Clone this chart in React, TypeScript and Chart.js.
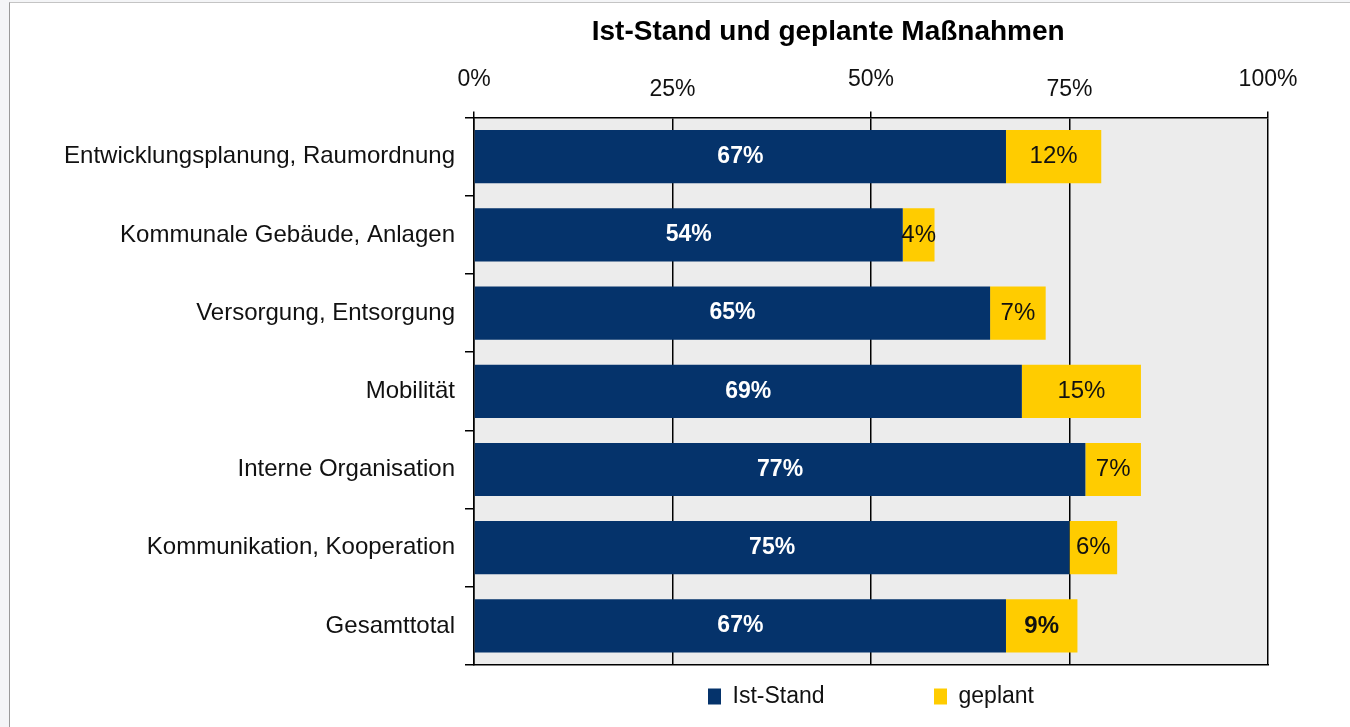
import React, { useEffect, useRef } from 'react';
import { Chart, registerables } from 'chart.js';

Chart.register(...registerables);

const categories = [
  'Entwicklungsplanung, Raumordnung',
  'Kommunale Gebäude, Anlagen',
  'Versorgung, Entsorgung',
  'Mobilität',
  'Interne Organisation',
  'Kommunikation, Kooperation',
  'Gesamttotal',
];
const istStand = [67, 54, 65, 69, 77, 75, 67];
const geplant = [12, 4, 7, 15, 7, 6, 9];
const xTickLabels = ['0%', '25%', '50%', '75%', '100%'];
const seriesNames = ['Ist-Stand', 'geplant'];
const titleText = 'Ist-Stand und geplante Maßnahmen';

const NAVY = '#05336b';
const YELLOW = '#ffcc00';
const PLOT_BG = '#ececec';
const TEXT = '#111111';
const FONT = "'Liberation Sans', Arial, Helvetica, sans-serif";

const plotBackground = {
  id: 'plotBackground',
  beforeDraw(chart: any) {
    const { ctx, chartArea } = chart;
    if (!chartArea) return;
    ctx.save();
    ctx.fillStyle = PLOT_BG;
    ctx.fillRect(chartArea.left, chartArea.top, chartArea.right - chartArea.left, chartArea.bottom - chartArea.top);
    ctx.restore();
  },
};

const barValueLabels = {
  id: 'barValueLabels',
  afterDatasetsDraw(chart: any) {
    const { ctx } = chart;
    ctx.save();
    ctx.textAlign = 'center';
    ctx.textBaseline = 'middle';
    chart.data.datasets.forEach((ds: any, di: number) => {
      const meta = chart.getDatasetMeta(di);
      meta.data.forEach((bar: any, i: number) => {
        const p = bar.getProps(['x', 'y', 'base'], true);
        const cx = (p.x + p.base) / 2;
        const v = ds.data[i];
        if (di === 0) {
          ctx.font = `bold 23px ${FONT}`;
          ctx.fillStyle = '#ffffff';
        } else {
          const bold = i === categories.length - 1;
          ctx.font = `${bold ? 'bold ' : ''}24px ${FONT}`;
          ctx.fillStyle = '#111111';
        }
        ctx.fillText(`${v}%`, cx, p.y);
      });
    });
    ctx.restore();
  },
};

export default function App() {
  const ref = useRef<HTMLCanvasElement>(null);

  useEffect(() => {
    document.body.style.background = '#f4f5f7';
    const chart = new Chart(ref.current as HTMLCanvasElement, {
      type: 'bar',
      data: {
        labels: categories,
        datasets: [
          {
            label: seriesNames[0],
            data: istStand,
            backgroundColor: NAVY,
            borderWidth: 0,
            barPercentage: 0.68,
            categoryPercentage: 1,
          },
          {
            label: seriesNames[1],
            data: geplant,
            backgroundColor: YELLOW,
            borderWidth: 0,
            barPercentage: 0.68,
            categoryPercentage: 1,
          },
        ],
      },
      options: {
        indexAxis: 'y',
        responsive: false,
        animation: false,
        devicePixelRatio: 1,
        layout: { padding: { left: 20, right: 82, top: 0, bottom: 9 } },
        scales: {
          x: {
            type: 'linear',
            position: 'top',
            stacked: true,
            min: 0,
            max: 100,
            afterFit: (scale: any) => {
              scale.height = 66;
            },
            ticks: {
              stepSize: 25,
              padding: 17,
              color: TEXT,
              font: { family: FONT, size: 23, lineHeight: 0.43 },
              callback: (_v: any, index: number) => {
                const t = xTickLabels[index] ?? '';
                return index % 2 === 0 ? [t, ''] : ['', t];
              },
            },
            grid: {
              color: '#000000',
              lineWidth: 1.5,
              tickLength: 6,
              tickColor: (ctx: any) => (ctx.index % 2 === 0 ? '#000000' : 'rgba(0,0,0,0)'),
            },
            border: { display: true, color: '#000000', width: 1.5 },
          },
          x2: {
            type: 'linear',
            position: 'bottom',
            min: 0,
            max: 100,
            display: true,
            afterFit: (scale: any) => {
              scale.height = 0;
            },
            ticks: { display: false },
            grid: { display: false },
            border: { display: true, color: '#000000', width: 1.5 },
          },
          y: {
            stacked: true,
            afterFit: (scale: any) => {
              scale.width = 444;
            },
            ticks: {
              padding: 10,
              color: TEXT,
              font: { family: FONT, size: 24 },
            },
            grid: {
              offset: true,
              drawOnChartArea: false,
              tickLength: 9,
              color: '#000000',
              lineWidth: 1.5,
            },
            border: { display: true, color: '#000000', width: 1.5 },
          },
        },
        plugins: {
          title: {
            display: true,
            fullSize: false,
            text: titleText + '\u00a0'.repeat(11),
            color: '#000000',
            font: { family: FONT, size: 28, weight: 'bold', lineHeight: 1.2 },
            padding: { top: 12, bottom: 3 },
          },
          legend: {
            display: true,
            position: 'bottom',
            fullSize: false,
            labels: {
              boxWidth: 13,
              boxHeight: 16,
              padding: 20,
              color: TEXT,
              font: { family: FONT, size: 23 },
              generateLabels: (c: any) =>
                c.data.datasets.map((ds: any, i: number) => ({
                  text: i === 0 ? ds.label + '\u00a0'.repeat(14) : ds.label,
                  fillStyle: ds.backgroundColor,
                  strokeStyle: ds.backgroundColor,
                  lineWidth: 0,
                  hidden: false,
                  datasetIndex: i,
                  fontColor: TEXT,
                })),
            },
          },
          tooltip: { enabled: false },
        },
      },
      plugins: [plotBackground, barValueLabels],
    } as any);
    return () => chart.destroy();
  }, []);

  return (
    <div
      style={{
        position: 'absolute',
        left: 9,
        top: 2,
        width: 1340,
        height: 724,
        borderLeft: '1px solid #9a9a9a',
        borderTop: '1px solid #c4c4c4',
        background: '#ffffff',
      }}
    >
      <canvas ref={ref} width={1340} height={724} style={{ display: 'block' }} />
    </div>
  );
}
